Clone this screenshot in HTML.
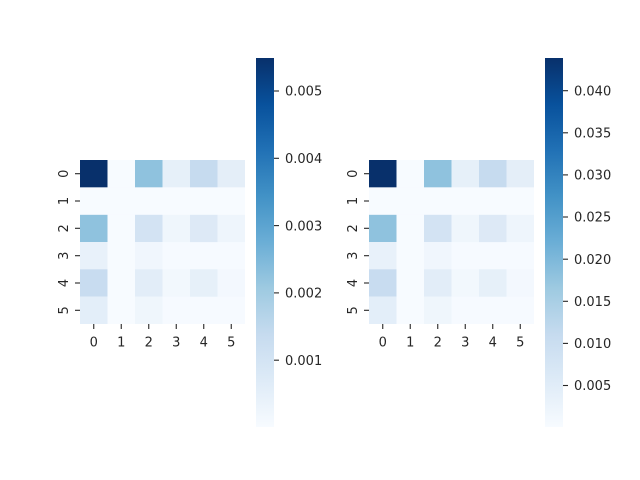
<!DOCTYPE html>
<html><head><style>body{margin:0;background:#fff}svg{display:block}text{font-family:"DejaVu Sans","Liberation Sans",sans-serif;font-size:13px;fill:#262626}</style></head>
<body>
<svg width="640" height="480" xmlns="http://www.w3.org/2000/svg">
<defs>
<linearGradient id="b" x1="0" y1="1" x2="0" y2="0">
<stop offset="0" stop-color="#f7fbff"/><stop offset="0.125" stop-color="#deebf7"/><stop offset="0.25" stop-color="#c6dbef"/><stop offset="0.375" stop-color="#9ecae1"/><stop offset="0.5" stop-color="#6baed6"/><stop offset="0.625" stop-color="#4292c6"/><stop offset="0.75" stop-color="#2171b5"/><stop offset="0.875" stop-color="#08519c"/><stop offset="1" stop-color="#08306b"/>
</linearGradient>
<g id="hm">
<rect x="0" y="0" width="165" height="164" fill="#f6faff"/>
<rect x="0" y="0" width="27.5" height="27.4" fill="#08306b"/>
<rect x="55" y="0" width="27.5" height="27.4" fill="#8fc2de"/>
<rect x="82.5" y="0" width="27.5" height="27.4" fill="#e6f0f9"/>
<rect x="110" y="0" width="27.5" height="27.4" fill="#c6dbef"/>
<rect x="137.5" y="0" width="27.5" height="27.4" fill="#e4eef8"/>
<rect x="0" y="54.7" width="27.5" height="27.4" fill="#8fc2de"/>
<rect x="55" y="54.7" width="27.5" height="27.4" fill="#d3e3f3"/>
<rect x="82.5" y="54.7" width="27.5" height="27.4" fill="#eff6fc"/>
<rect x="110" y="54.7" width="27.5" height="27.4" fill="#dde9f6"/>
<rect x="137.5" y="54.7" width="27.5" height="27.4" fill="#eef5fc"/>
<rect x="0" y="82" width="27.5" height="27.4" fill="#e8f1fa"/>
<rect x="55" y="82" width="27.5" height="27.4" fill="#f0f6fd"/>
<rect x="0" y="109.3" width="27.5" height="27.4" fill="#c8dcf0"/>
<rect x="55" y="109.3" width="27.5" height="27.4" fill="#e2edf8"/>
<rect x="82.5" y="109.3" width="27.5" height="27.4" fill="#f2f8fd"/>
<rect x="110" y="109.3" width="27.5" height="27.4" fill="#e6f0f9"/>
<rect x="137.5" y="109.3" width="27.5" height="27.4" fill="#f3f8fe"/>
<rect x="0" y="136.7" width="27.5" height="27.3" fill="#e3eef9"/>
<rect x="55" y="136.7" width="27.5" height="27.3" fill="#eff6fc"/>
<rect x="27.5" y="0" width="27.5" height="164" fill="#f7fbff"/>
<rect x="0" y="27.4" width="165" height="27.3" fill="#f7fbff"/>
<g stroke="#262626" stroke-width="1.1">
<line x1="13.75" y1="164" x2="13.75" y2="169"/><line x1="41.25" y1="164" x2="41.25" y2="169"/><line x1="68.75" y1="164" x2="68.75" y2="169"/><line x1="96.25" y1="164" x2="96.25" y2="169"/><line x1="123.75" y1="164" x2="123.75" y2="169"/><line x1="151.25" y1="164" x2="151.25" y2="169"/>
<line x1="0" y1="13.7" x2="-5" y2="13.7"/><line x1="0" y1="41" x2="-5" y2="41"/><line x1="0" y1="68.3" x2="-5" y2="68.3"/><line x1="0" y1="95.7" x2="-5" y2="95.7"/><line x1="0" y1="123" x2="-5" y2="123"/><line x1="0" y1="150.3" x2="-5" y2="150.3"/>
</g>
<g text-anchor="middle">
<text x="13.75" y="186.5">0</text><text x="41.25" y="186.5">1</text><text x="68.75" y="186.5">2</text><text x="96.25" y="186.5">3</text><text x="123.75" y="186.5">4</text><text x="151.25" y="186.5">5</text>
<text transform="translate(-12,13.7) rotate(-90)">0</text><text transform="translate(-12,41) rotate(-90)">1</text><text transform="translate(-12,68.3) rotate(-90)">2</text><text transform="translate(-12,95.7) rotate(-90)">3</text><text transform="translate(-12,123) rotate(-90)">4</text><text transform="translate(-12,150.3) rotate(-90)">5</text>
</g>
</g>
</defs>
<use href="#hm" x="80" y="160"/>
<use href="#hm" x="369" y="160"/>
<rect x="256" y="58" width="18" height="369" fill="url(#b)"/>
<rect x="545" y="58" width="18" height="369" fill="url(#b)"/>
<g stroke="#262626" stroke-width="1.1">
<line x1="274" x2="279" y1="91" y2="91"/><line x1="274" x2="279" y1="158.3" y2="158.3"/><line x1="274" x2="279" y1="225.6" y2="225.6"/><line x1="274" x2="279" y1="292.9" y2="292.9"/><line x1="274" x2="279" y1="360.2" y2="360.2"/>
<line x1="563" x2="568" y1="90.7" y2="90.7"/><line x1="563" x2="568" y1="132.8" y2="132.8"/><line x1="563" x2="568" y1="174.9" y2="174.9"/><line x1="563" x2="568" y1="217" y2="217"/><line x1="563" x2="568" y1="259.2" y2="259.2"/><line x1="563" x2="568" y1="301.3" y2="301.3"/><line x1="563" x2="568" y1="343.4" y2="343.4"/><line x1="563" x2="568" y1="385.5" y2="385.5"/>
</g>
<g>
<text x="285" y="95.7">0.005</text><text x="285" y="163">0.004</text><text x="285" y="230.3">0.003</text><text x="285" y="297.6">0.002</text><text x="285" y="364.9">0.001</text>
<text x="574" y="95.4">0.040</text><text x="574" y="137.5">0.035</text><text x="574" y="179.6">0.030</text><text x="574" y="221.7">0.025</text><text x="574" y="263.9">0.020</text><text x="574" y="306">0.015</text><text x="574" y="348.1">0.010</text><text x="574" y="390.2">0.005</text>
</g>
</svg>
</body></html>
